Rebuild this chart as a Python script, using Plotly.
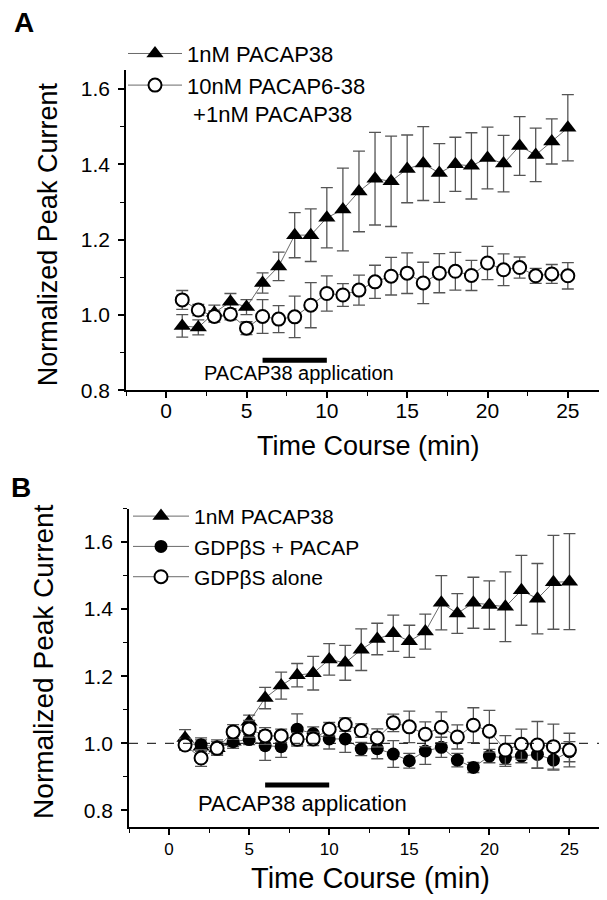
import plotly.graph_objects as go

# ---------------- data ----------------
time_min = list(range(1, 26))

a_pacap38 = [0.971, 0.967, 1.006, 1.035, 1.021, 1.085, 1.129, 1.212, 1.212, 1.258, 1.28, 1.328, 1.362,
             1.355, 1.388, 1.402, 1.377, 1.40, 1.396, 1.417, 1.402, 1.449, 1.425, 1.461, 1.497]
a_pacap38_err = [0.03, 0.02, 0.02, 0.022, 0.02, 0.027, 0.038, 0.06, 0.07, 0.08, 0.11, 0.107, 0.123,
                 0.12, 0.09, 0.098, 0.078, 0.072, 0.088, 0.082, 0.075, 0.078, 0.071, 0.06, 0.088]
a_antag = [1.04, 1.013, 0.996, 1.002, 0.965, 0.996, 0.989, 0.995, 1.026, 1.057, 1.053, 1.066, 1.088,
           1.103, 1.111, 1.085, 1.111, 1.116, 1.105, 1.138, 1.12, 1.126, 1.104, 1.109, 1.104]
a_antag_err = [0.025, 0.015, 0.015, 0.015, 0.017, 0.045, 0.036, 0.055, 0.06, 0.047, 0.03, 0.04, 0.044,
               0.05, 0.054, 0.055, 0.052, 0.05, 0.04, 0.044, 0.042, 0.028, 0.02, 0.025, 0.035]

b_pacap38 = [1.016, 0.99, 0.985, 1.005, 1.064, 1.135, 1.172, 1.203, 1.209, 1.25, 1.24, 1.279, 1.311,
             1.328, 1.304, 1.333, 1.419, 1.387, 1.419, 1.412, 1.407, 1.456, 1.431, 1.48, 1.482]
b_pacap38_err = [0.025, 0.02, 0.02, 0.02, 0.02, 0.032, 0.04, 0.035, 0.05, 0.047, 0.052, 0.062, 0.047,
                 0.054, 0.048, 0.052, 0.081, 0.059, 0.076, 0.072, 0.104, 0.104, 0.105, 0.14, 0.143]
b_gdp_pacap = [1.0, 0.996, 0.99, 1.005, 1.011, 0.993, 0.99, 1.042, 1.029, 1.013, 1.013, 0.983, 0.984,
               0.968, 0.948, 0.977, 0.988, 0.95, 0.928, 0.962, 0.956, 0.962, 0.967, 0.95, 0.975]
b_gdp_pacap_err = [0.015, 0.02, 0.02, 0.015, 0.015, 0.044, 0.032, 0.046, 0.02, 0.03, 0.04, 0.02, 0.03,
                   0.04, 0.022, 0.04, 0.03, 0.02, 0.015, 0.02, 0.025, 0.02, 0.04, 0.03, 0.03]
b_gdp_alone = [0.995, 0.956, 0.985, 1.034, 1.043, 1.022, 1.022, 1.012, 1.013, 1.042, 1.056, 1.038, 1.016,
               1.061, 1.049, 1.027, 1.048, 1.019, 1.054, 1.036, 0.98, 0.997, 0.995, 0.99, 0.98]
b_gdp_alone_err = [0.015, 0.025, 0.02, 0.022, 0.025, 0.025, 0.02, 0.02, 0.02, 0.02, 0.02, 0.02, 0.027,
                   0.026, 0.047, 0.037, 0.046, 0.036, 0.052, 0.062, 0.043, 0.045, 0.07, 0.067, 0.05]

application_start = 6
application_end = 10
application_label = "PACAP38 application"
x_ticks = [0, 5, 10, 15, 20, 25]
y_ticks = [0.8, 1.0, 1.2, 1.4, 1.6]
y_tick_labels = ["0.8", "1.0", "1.2", "1.4", "1.6"]

# ---------------- styling ----------------
FONT = "Liberation Sans, Arial, sans-serif"
ERR_COLOR = "#555555"
LINE_COLOR = "#444444"
W, H = 607, 900


def series(x, y, err, name, symbol, fill, xa, ya, legend):
    return go.Scatter(
        x=x, y=y, name=name, mode="lines+markers", xaxis=xa, yaxis=ya, legend=legend,
        line=dict(color=LINE_COLOR, width=0.8),
        marker=dict(symbol=symbol, size=13 if "circle" in symbol else 15, color=fill,
                    line=dict(color="black", width=2 if fill == "white" else 0)),
        error_y=dict(type="data", array=err, visible=True, color=ERR_COLOR, thickness=1.3, width=6),
    )


fig = go.Figure()
fig.add_trace(series(time_min, a_pacap38, a_pacap38_err, "1nM PACAP38", "triangle-up", "black", "x", "y", "legend"))
fig.add_trace(series(time_min, a_antag, a_antag_err, "10nM PACAP6-38<br>\u00a0+1nM PACAP38", "circle", "white", "x", "y", "legend"))

fig.add_trace(series(time_min, b_pacap38, b_pacap38_err, "1nM PACAP38", "triangle-up", "black", "x2", "y2", "legend2"))
fig.add_trace(series(time_min, b_gdp_pacap, b_gdp_pacap_err, "GDP\u03b2S + PACAP", "circle", "black", "x2", "y2", "legend2"))
fig.add_trace(series(time_min, b_gdp_alone, b_gdp_alone_err, "GDP\u03b2S alone", "circle", "white", "x2", "y2", "legend2"))

xcommon = dict(range=[-2.5, 27.5], tickvals=x_ticks, ticks="outside", ticklen=6, tickwidth=1.5,
               showline=True, linewidth=1.5, linecolor="black", showgrid=False, zeroline=False,
               minor=dict(dtick=2.5, tick0=0, ticks="outside", ticklen=4, tickwidth=1.2, tickcolor="black", showgrid=False),
               tickcolor="black")
ycommon = dict(tickvals=y_ticks, ticktext=y_tick_labels, ticks="outside", ticklen=6, tickwidth=1.5,
               showline=True, linewidth=1.5, linecolor="black", showgrid=False, zeroline=False,
               minor=dict(dtick=0.1, tick0=0.8, ticks="outside", ticklen=4, tickwidth=1.2, tickcolor="black", showgrid=False),
               tickcolor="black", ticklabelstandoff=4)

fig.update_layout(
    width=W, height=H, margin=dict(l=0, r=0, t=0, b=0),
    paper_bgcolor="white", plot_bgcolor="white",
    font=dict(family=FONT, color="black"),
    xaxis=dict(domain=[118 / W, 600 / W], anchor="y", tickfont=dict(size=21), ticklabelstandoff=-5, **xcommon),
    yaxis=dict(domain=[1 - 387 / H, 1 - 63 / H], anchor="x", range=[0.8, 1.65], tickfont=dict(size=21), **ycommon),
    xaxis2=dict(domain=[121 / W, 601.5 / W], anchor="y2", tickfont=dict(size=17), **xcommon),
    yaxis2=dict(domain=[1 - 829.3 / H, 1 - 506.7 / H], anchor="x2", range=[0.75, 1.70], tickfont=dict(size=21), **ycommon),
    legend=dict(x=115 / W, y=1 - 25 / H, xanchor="left", yanchor="top", bgcolor="rgba(0,0,0,0)",
                font=dict(size=22, family=FONT), itemwidth=54, valign="top", tracegroupgap=0),
    legend2=dict(x=120 / W, y=1 - 494 / H, xanchor="left", yanchor="top", bgcolor="rgba(0,0,0,0)",
                 font=dict(size=21, family=FONT), itemwidth=56, valign="top", tracegroupgap=0),
    showlegend=True,
)

# application bars
fig.add_shape(type="line", xref="x", yref="y", x0=application_start, x1=application_end, y0=0.88, y1=0.88,
              line=dict(color="black", width=5))
fig.add_shape(type="line", xref="x2", yref="y2", x0=application_start, x1=application_end, y0=0.876, y1=0.876,
              line=dict(color="black", width=5))
# baseline dashed line in B
fig.add_shape(type="line", xref="x2 domain", yref="y2", x0=0, x1=1, y0=1.0, y1=1.0,
              line=dict(color="black", width=1, dash="dash"))

ann = [
    dict(text=application_label, xref="x", yref="y", x=8.26, y=0.847, font=dict(size=20)),
    dict(text=application_label, xref="x2", yref="y2", x=8.36, y=0.821, font=dict(size=22)),
    dict(text="Time Course (min)", xref="paper", yref="paper", x=360 / W, y=1 - 443 / H, font=dict(size=27)),
    dict(text="Time Course (min)", xref="paper", yref="paper", x=362 / W, y=1 - 881 / H, font=dict(size=29)),
    dict(text="Normalized Peak Current", xref="paper", yref="paper", x=40 / W, y=1 - 229 / H,
         textangle=-90, font=dict(size=27)),
    dict(text="Normalized Peak Current", xref="paper", yref="paper", x=36 / W, y=1 - 662 / H,
         textangle=-90, font=dict(size=28)),
    dict(text="<b>A</b>", xref="paper", yref="paper", x=4 / W, y=1 - 15 / H, xanchor="left", font=dict(size=28)),
    dict(text="<b>B</b>", xref="paper", yref="paper", x=1 / W, y=1 - 485 / H, xanchor="left", font=dict(size=28)),
]
for a in ann:
    a.setdefault("showarrow", False)
    a.setdefault("xanchor", "center")
    a.setdefault("yanchor", "middle")
    fig.add_annotation(**a)

fig.write_html("out.html")
